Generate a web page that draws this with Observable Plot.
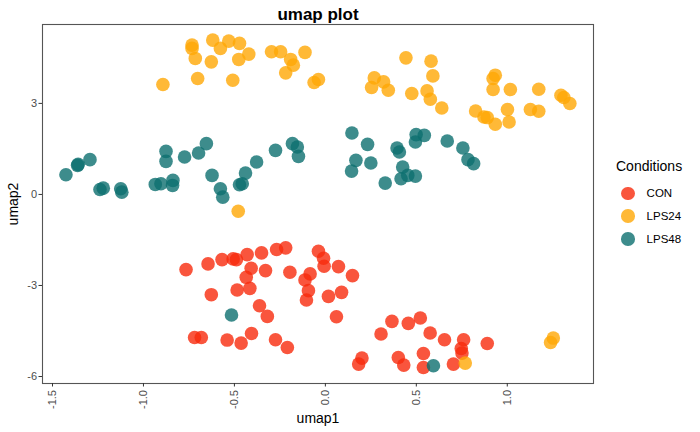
<!DOCTYPE html>
<html>
<head>
<meta charset="utf-8">
<script src="https://cdn.jsdelivr.net/npm/d3@7"></script>
<script src="https://cdn.jsdelivr.net/npm/@observablehq/plot@0.6"></script>
<style>
  html, body { margin: 0; padding: 0; background: #fff; }
  #wrap { position: relative; width: 700px; height: 432px; font-family: "Liberation Sans", Arial, Helvetica, sans-serif; }
  #title { position: absolute; left: 0; width: 636px; top: 5px; text-align: center; font-weight: bold; font-size: 17px; color: #000; }
  #legend { position: absolute; left: 616px; top: 158px; font-size: 11.5px; color: #000; }
  #legend .lt { font-size: 14px; margin-bottom: 8px; }
  #legend .row { display: flex; align-items: center; height: 22.8px; margin-left: 5px; }
  #legend .sw { width: 13.6px; height: 13.6px; border-radius: 50%; margin-right: 12px; }
</style>
</head>
<body>
<div id="wrap"><div id="title"></div><div id="legend"></div></div>
<script>
const chartTitle = "umap plot";
const xLabel = "umap1";
const yLabel = "umap2";
const legendTitle = "Conditions";
const conditions = ["CON", "LPS24", "LPS48"];
const colors = ["#F82A0C", "#FFA705", "#0C6F6F"];
const xTicks = [-1.5, -1.0, -0.5, 0.0, 0.5, 1.0];
const yTicks = [-6, -3, 0, 3];

const conX = [-0.766,-0.645,-0.568,-0.507,-0.489,-0.430,-0.351,-0.268,-0.218,-0.408,-0.435,-0.329,-0.195,-0.038,-0.010,-0.007,0.072,-0.084,-0.112,-0.093,-0.104,-0.627,-0.485,-0.415,-0.362,-0.319,0.017,0.061,-0.719,-0.682,-0.540,-0.463,-0.406,-0.274,-0.209,0.149,0.089,0.366,0.306,0.456,0.522,0.576,0.655,0.760,0.747,0.751,0.890,0.201,0.183,0.401,0.431,0.539,0.539,0.704];
const conY = [-2.477,-2.289,-2.147,-2.124,-2.147,-1.982,-1.925,-1.816,-1.760,-2.434,-2.731,-2.510,-2.566,-1.873,-2.104,-2.368,-2.378,-2.619,-2.817,-3.170,-3.478,-3.303,-3.147,-3.094,-3.666,-4.019,-3.359,-4.029,-4.713,-4.713,-4.799,-4.898,-4.581,-4.789,-5.043,-2.675,-3.227,-4.184,-4.600,-4.250,-4.072,-4.567,-4.789,-4.789,-5.076,-5.228,-4.911,-5.393,-5.591,-5.373,-5.624,-5.241,-5.703,-5.591];

const lps24X = [-0.733,-0.733,-0.619,-0.577,-0.531,-0.472,-0.715,-0.627,-0.476,-0.421,-0.296,-0.246,-0.191,-0.176,-0.218,-0.112,-0.062,-0.038,-0.893,-0.702,-0.509,-0.479,0.443,0.581,0.591,0.269,0.320,0.254,0.346,0.475,0.559,0.577,0.640,0.934,0.922,0.922,1.017,1.173,1.295,1.311,1.344,0.826,0.872,0.890,0.934,1.001,1.010,1.127,1.173,0.769,1.253,1.238];
const lps24Y = [4.921,4.812,5.086,4.812,5.053,4.977,4.482,4.369,4.449,4.624,4.700,4.700,4.449,4.260,4.006,4.680,3.689,3.788,3.623,3.821,3.765,-0.552,4.501,4.392,3.907,3.841,3.709,3.524,3.435,3.326,3.412,3.137,2.850,3.930,3.821,3.458,3.458,3.468,3.269,3.194,2.995,2.751,2.553,2.533,2.312,2.797,2.388,2.797,2.741,-5.558,-4.733,-4.878];

const lps48X = [-1.426,-1.362,-1.359,-1.294,-1.239,-1.221,-1.125,-1.119,-0.935,-0.904,-0.838,-0.840,-0.876,-0.876,-0.774,-0.697,-0.654,-0.623,-0.577,-0.564,-0.472,-0.457,-0.439,-0.378,-0.274,-0.181,-0.154,-0.148,0.146,0.232,0.168,0.144,0.250,0.329,0.394,0.407,0.425,0.416,0.453,0.495,0.499,0.544,0.495,0.670,0.756,0.784,0.815,-0.516,0.594];
const lps48Y = [0.651,0.958,0.991,1.146,0.165,0.208,0.188,0.076,0.330,0.353,0.462,0.297,1.420,1.090,1.232,1.364,1.674,0.627,0.188,-0.089,0.320,0.353,0.703,1.067,1.453,1.674,1.562,1.255,2.024,1.651,1.123,0.769,1.034,0.373,1.529,1.397,0.902,0.518,0.627,0.604,1.972,1.948,1.727,1.760,1.529,1.146,1.014,-3.973,-5.647];

const rows = [];
[[conX, conY, "CON"], [lps24X, lps24Y, "LPS24"], [lps48X, lps48Y, "LPS48"]].forEach(([xs, ys, c]) => {
  xs.forEach((x, i) => rows.push({umap1: x, umap2: ys[i], cond: c}));
});

const chart = Plot.plot({
  width: 700,
  height: 432,
  marginLeft: 42,
  marginRight: 107,
  marginTop: 24,
  marginBottom: 49,
  style: {fontFamily: '"Liberation Sans", Arial, Helvetica, sans-serif', background: "#fff"},
  x: {domain: [-1.555, 1.474]},
  y: {domain: [-6.23, 5.6]},
  color: {domain: conditions, range: colors},
  marks: [
    Plot.dot(rows, {x: "umap1", y: "umap2", fill: "cond", r: 6.8, fillOpacity: 0.8, stroke: "none"}),
    Plot.frame({stroke: "#555", strokeWidth: 1.1}),
    Plot.axisX({ticks: xTicks, tickFormat: d => d.toFixed(1), tickRotate: -90, tickSize: 3.5, tickPadding: 3, fontSize: 11, color: "#4d4d4d", stroke: "#333", label: xLabel, labelAnchor: "center", labelArrow: "none", labelOffset: 39}),
    Plot.axisY({ticks: yTicks, tickFormat: d => String(d), tickSize: 3.5, tickPadding: 2, fontSize: 11, color: "#4d4d4d", stroke: "#333", label: yLabel, labelAnchor: "center", labelArrow: "none", labelOffset: 34})
  ]
});

chart.querySelectorAll('[aria-label="x-axis label"] text, [aria-label="y-axis label"] text').forEach(t => {
  t.setAttribute("fill", "#000");
  t.style.fontSize = "14px";
});

const wrap = document.getElementById("wrap");
wrap.insertBefore(chart, wrap.firstChild);
document.getElementById("title").textContent = chartTitle;

const leg = document.getElementById("legend");
const lt = document.createElement("div");
lt.className = "lt";
lt.textContent = legendTitle;
leg.appendChild(lt);
const cs = chart.scale("color");
conditions.forEach(c => {
  const row = document.createElement("div");
  row.className = "row";
  const sw = document.createElement("div");
  sw.className = "sw";
  sw.style.background = cs.apply(c);
  sw.style.opacity = 0.8;
  const lab = document.createElement("span");
  lab.textContent = c;
  row.appendChild(sw);
  row.appendChild(lab);
  leg.appendChild(row);
});
</script>
</body>
</html>
